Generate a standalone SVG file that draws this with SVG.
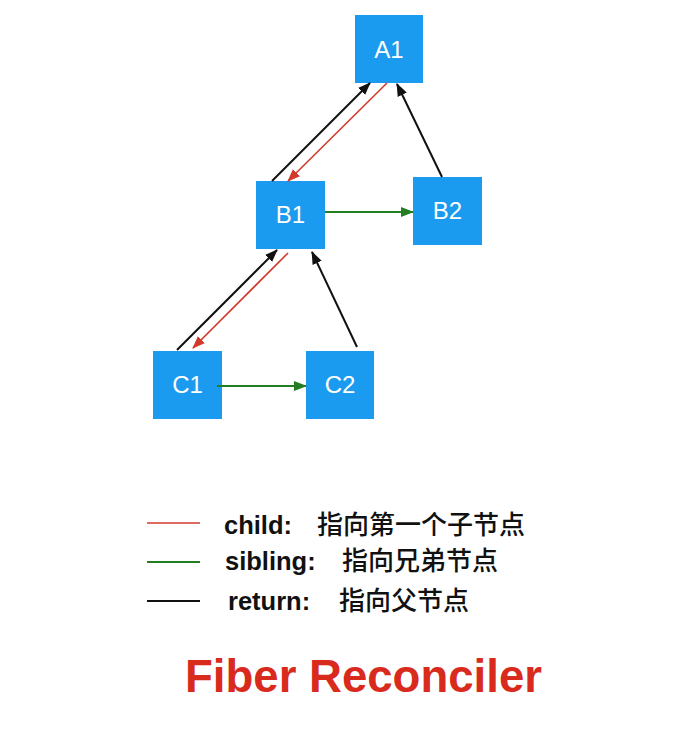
<svg xmlns="http://www.w3.org/2000/svg" width="688" height="730" viewBox="0 0 688 730">
<style>
.node{fill:#1B9BEF}
.lbl{font-family:"Liberation Sans",Arial,sans-serif;font-size:24px;fill:#fff;text-anchor:middle}
.ret{stroke:#111;stroke-width:2;fill:none}
.chd{stroke:#D23A2C;stroke-width:1.6;fill:none}
.sib{stroke:#237D23;stroke-width:1.8;fill:none}
.en{font-family:"Liberation Sans",Arial,sans-serif;font-size:25.5px;font-weight:bold;fill:#111}
.zh{font-family:"Liberation Sans","Noto Sans CJK SC",sans-serif;font-size:26px;font-weight:500;fill:#111}
</style>
<defs>
<marker id="mb" markerUnits="userSpaceOnUse" markerWidth="13" markerHeight="10" refX="12" refY="5" orient="auto"><path d="M0,0 L13,5 L0,10 z" fill="#111"/></marker>
<marker id="mr" markerUnits="userSpaceOnUse" markerWidth="13" markerHeight="10" refX="12" refY="5" orient="auto"><path d="M0,0 L13,5 L0,10 z" fill="#D23A2C"/></marker>
<marker id="mg" markerUnits="userSpaceOnUse" markerWidth="13" markerHeight="10" refX="12" refY="5" orient="auto"><path d="M0,0 L13,5 L0,10 z" fill="#237D23"/></marker>
</defs>
<rect width="688" height="730" fill="#fff"/>
<g id="A1"><rect class="node" x="355" y="15" width="68" height="68"/><text class="lbl" x="389" y="57.5">A1</text></g>
<g id="B1"><rect class="node" x="256" y="181" width="69" height="68"/><text class="lbl" x="290.5" y="223">B1</text></g>
<g id="B2"><rect class="node" x="413" y="177" width="69" height="68"/><text class="lbl" x="447.5" y="219">B2</text></g>
<g id="C1"><rect class="node" x="153" y="351" width="69" height="68"/><text class="lbl" x="187.5" y="393">C1</text></g>
<g id="C2"><rect class="node" x="306" y="351" width="68" height="68"/><text class="lbl" x="340" y="393">C2</text></g>
<g id="connectors">
<line class="ret" x1="272" y1="181" x2="370" y2="83" marker-end="url(#mb)"/>
<line class="chd" x1="387" y1="83" x2="288" y2="181" marker-end="url(#mr)"/>
<line class="ret" x1="442" y1="177" x2="397" y2="84" marker-end="url(#mb)"/>
<line class="sib" x1="325" y1="212" x2="413" y2="212" marker-end="url(#mg)"/>
<line class="ret" x1="177" y1="350" x2="277" y2="250" marker-end="url(#mb)"/>
<line class="chd" x1="288" y1="253" x2="193" y2="348" marker-end="url(#mr)"/>
<line class="ret" x1="357" y1="347" x2="312" y2="252" marker-end="url(#mb)"/>
<line class="sib" x1="217" y1="386" x2="306" y2="386" marker-end="url(#mg)"/>
</g>
<g id="legend">
<line class="chd" x1="147" y1="523" x2="200" y2="523"/>
<line class="sib" x1="147" y1="562" x2="200" y2="562"/>
<line class="ret" x1="147" y1="601" x2="200" y2="601"/>
<text class="en" x="224" y="534">child:</text>
<text class="zh" x="317" y="534">指向第一个子节点</text>
<text class="en" x="225" y="570">sibling:</text>
<text class="zh" x="342" y="570">指向兄弟节点</text>
<text class="en" x="228" y="610">return:</text>
<text class="zh" x="339" y="610">指向父节点</text>
</g>
<text x="185" y="692" font-family="'Liberation Sans',Arial,sans-serif" font-size="46" font-weight="bold" fill="#D92A1E" textLength="357" lengthAdjust="spacingAndGlyphs">Fiber Reconciler</text>
</svg>
